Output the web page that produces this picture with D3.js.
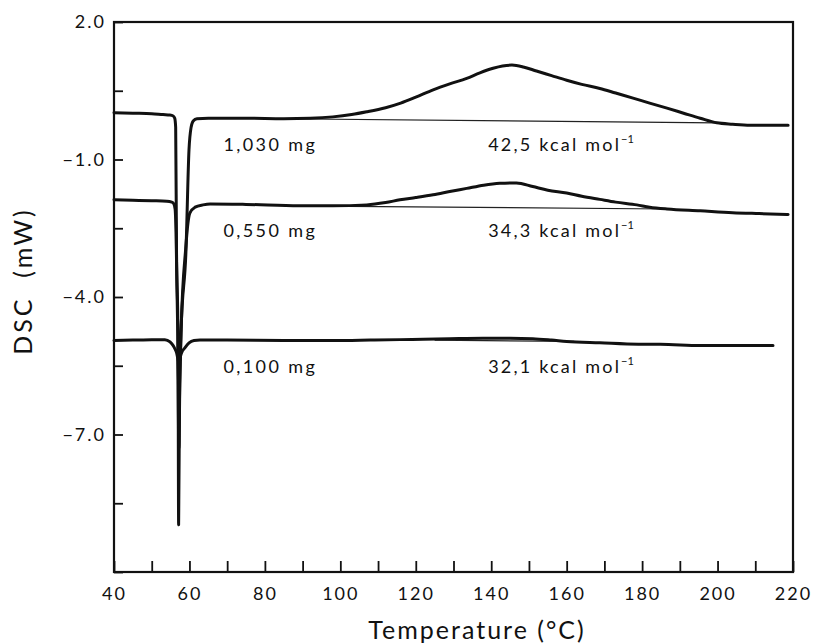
<!DOCTYPE html>
<html>
<head>
<meta charset="utf-8">
<script src="https://cdn.jsdelivr.net/npm/d3@7"></script>
<style>
body{margin:0;background:#fff}
svg text{font-family:Lato,"DejaVu Sans",sans-serif;fill:#111}
</style>
</head>
<body>
<svg id="chart" width="814" height="644"></svg>
<script>
// axis ticks
var tempTicks=[40,50,60,70,80,90,100,110,120,130,140,150,160,170,180,190,200,210,220];
var tempLabels=[40,60,80,100,120,140,160,180,200,220];
var dscTicks=[2,0.5,-1,-2.5,-4,-5.5,-7,-8.5,-10];
var dscLabels=[2,-1,-4,-7];

// DSC traces, [temperature, mW]
var curve1030=[[40,0.02],[45,0.01],[50,0],[53,-0.02],[54.8,-0.03],[55.7,-0.05],[56.1,-0.1],[56.35,-0.3],
 [56.57,-2.97],[56.97,-4.83],[57.13,-8.97],[57.36,-6.25],[57.76,-4.79],[59.09,-2.97],[59.88,-0.79],
 [60.41,-0.31],[61,-0.16],[62,-0.11],[65,-0.1],[75,-0.1],[85,-0.11],[92,-0.1],[98,-0.07],[103,-0.02],
 [107,0.04],[112,0.13],[116,0.23],[120,0.36],[124.6,0.52],[129,0.65],[133.5,0.77],[137,0.89],[140.5,0.99],
 [143,1.04],[145.5,1.06],[148.5,1.02],[152,0.93],[156,0.83],[160,0.73],[164,0.64],[168.8,0.55],[173,0.45],
 [177.6,0.34],[182,0.23],[186.6,0.12],[191,0.01],[195.4,-0.1],[199.8,-0.2],[204,-0.23],[208.6,-0.25],
 [214,-0.25],[218.7,-0.25]];
var curve550=[[40,-1.88],[45,-1.89],[50,-1.9],[54,-1.91],[55.3,-1.93],[55.8,-1.96],[56.2,-2.08],[56.45,-2.6],
 [56.9,-4.8],[57.2,-7.3],[57.45,-5.9],[57.8,-4.7],[59,-2.95],[59.6,-2.39],[60.1,-2.17],[61.5,-2.04],
 [63.6,-1.99],[65.5,-1.97],[75,-1.98],[89,-2.01],[98,-2.01],[107,-1.99],[112,-1.94],[115.8,-1.88],
 [120,-1.83],[124.6,-1.77],[129,-1.7],[133.5,-1.63],[138,-1.56],[142.3,-1.52],[146.7,-1.51],[151,-1.59],
 [155,-1.67],[160,-1.73],[164,-1.8],[168.8,-1.87],[173,-1.93],[178.6,-1.99],[182,-2.04],[186.6,-2.08],
 [195.4,-2.12],[204,-2.16],[211,-2.18],[218.7,-2.2]];
var curve100=[[40,-4.95],[45,-4.94],[50,-4.93],[53.5,-4.93],[54.85,-4.98],[55.6,-5.05],[56.2,-5.14],
 [56.6,-5.22],[56.97,-5.4],[57.18,-6.01],[57.38,-5.4],[57.9,-5.22],[58.8,-5.11],[59.9,-5],[61.2,-4.95],
 [62.8,-4.94],[70,-4.94],[85,-4.95],[98,-4.95],[108,-4.94],[115.8,-4.93],[122,-4.92],[129,-4.91],
 [137.8,-4.9],[145,-4.9],[151,-4.91],[156,-4.94],[160,-4.97],[168.8,-5],[179,-5.03],[184.8,-5.03],
 [195.4,-5.06],[205,-5.06],[214.7,-5.06]];

// integration baselines
var base1030=[[70,-0.1],[199.8,-0.2]];
var base550=[[85,-2.01],[186.6,-2.08]];
var base100=[[125,-4.94],[162,-4.97]];

var massLabels=["1,030 mg","0,550 mg","0,100 mg"];
var heatLabels=["42,5","34,3","32,1"];

var svg=d3.select("#chart");
var padL=114,padR=793,padT=22,padB=572;
var x=d3.scaleLinear().domain([40,220]).range([padL,padR]);
var y=d3.scaleLinear().domain([-10,2]).range([padB,padT]);

var fmt=d3.format(".1f");

var gx=svg.append("g").attr("transform","translate(0,"+padB+")")
 .call(d3.axisBottom(x).tickValues(tempTicks).tickSize(-11).tickPadding(15)
  .tickFormat(function(d){return tempLabels.indexOf(d)>=0?d:"";}));
var gy=svg.append("g").attr("transform","translate("+padL+",0)")
 .call(d3.axisLeft(y).tickValues(dscTicks).tickSize(-9).tickPadding(8)
  .tickFormat(function(d){return dscLabels.indexOf(d)>=0?fmt(d):"";}));
[gx,gy].forEach(function(g){
 g.select(".domain").remove();
 g.selectAll(".tick line").attr("stroke","#111").attr("stroke-width",1.8);
 g.selectAll(".tick text").attr("font-size",18).attr("letter-spacing",2)
  .attr("font-family",null).attr("fill","#111");
});

svg.append("rect").attr("x",padL).attr("y",padT).attr("width",padR-padL).attr("height",padB-padT)
 .attr("fill","none").attr("stroke","#111").attr("stroke-width",2.2);

var line=d3.line().x(function(d){return x(d[0]);}).y(function(d){return y(d[1]);}).curve(d3.curveMonotoneX);
var straight=d3.line().x(function(d){return x(d[0]);}).y(function(d){return y(d[1]);});

[base1030,base550,base100].forEach(function(b){
 svg.append("path").attr("d",straight(b)).attr("fill","none").attr("stroke","#222").attr("stroke-width",1.2);
});

var curves=[curve1030,curve550,curve100];
curves.forEach(function(c){
 svg.append("path").attr("d",line(c)).attr("fill","none").attr("stroke","#111")
  .attr("stroke-width",3).attr("stroke-linejoin","round").attr("stroke-linecap","round");
});

// annotations below each trace
curves.forEach(function(c,i){
 var lvl=c.filter(function(d){return d[0]>=65;})[0][1];
 var yy=y(lvl)+33;
 svg.append("text").attr("x",x(69)).attr("y",yy).attr("font-size",18).attr("letter-spacing",2.4)
  .text(massLabels[i]);
 var t=svg.append("text").attr("x",x(139.2)).attr("y",yy).attr("font-size",18).attr("letter-spacing",2.2);
 t.append("tspan").text(heatLabels[i]+" kcal mol");
 t.append("tspan").attr("font-size",11).attr("dy",-8).attr("letter-spacing",0).text("\u22121");
});

svg.append("text").attr("x",477).attr("y",639).attr("text-anchor","middle")
 .attr("font-size",25).attr("letter-spacing",2).text("Temperature (\u00b0C)");
svg.append("text").attr("transform","translate(32,281) rotate(-90)").attr("text-anchor","middle")
 .attr("font-size",25).attr("letter-spacing",3).text("DSC\u00a0\u00a0(mW)");
</script>
</body>
</html>
